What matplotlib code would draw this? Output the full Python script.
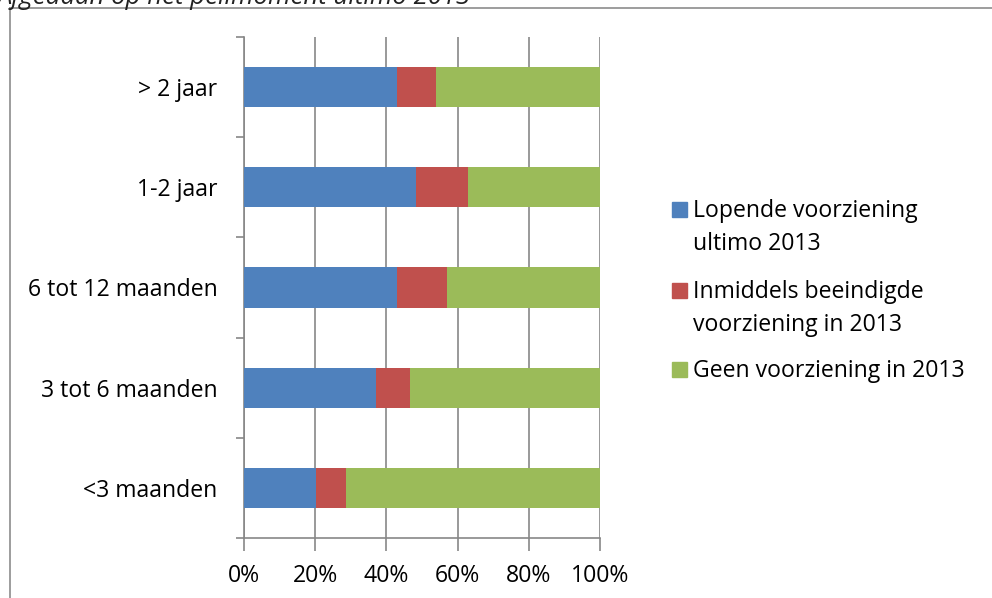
import numpy as np
from matplotlib import pyplot as plt
from matplotlib.patches import Rectangle
from matplotlib.lines import Line2D

# categories bottom -> top
categories = ['<3 maanden', '3 tot 6 maanden', '6 tot 12 maanden', '1-2 jaar', '> 2 jaar']
lopend = [20.3, 37.0, 43.1, 48.3, 43.0]
beeindigd = [8.4, 9.5, 13.9, 14.7, 11.0]
geen = [71.3, 53.5, 43.0, 37.0, 46.0]
series_names = ['Lopende voorziening\nultimo 2013',
                'Inmiddels beeindigde\nvoorziening in 2013',
                'Geen voorziening in 2013']
colors = ['#4F81BD', '#C0504D', '#9BBB59']
xticks = [0, 20, 40, 60, 80, 100]
title = 'Afgedaan op het peilmoment ultimo 2013'

W, H = 992, 598
plt.rcParams['font.family'] = ['Open Sans', 'DejaVu Sans']
FS = 16.6
fig = plt.figure(figsize=(W / 100, H / 100), dpi=100)

def fx(px):
    return px / W

def fy(py):
    return 1 - py / H

ax = fig.add_axes([fx(244), fy(538), fx(600) - fx(244), fy(37) - fy(538)])

y = np.arange(len(categories))
left = np.zeros(len(categories))
for vals, c in zip([lopend, beeindigd, geen], colors):
    ax.barh(y, vals, left=left, height=0.4, color=c, zorder=3)
    left += np.array(vals)

ax.set_xlim(0, 100)
ax.set_ylim(-0.5, len(categories) - 0.5)
gray = '#878787'
ax.set_xticks(xticks)
ax.set_xticklabels([f'{t}%' for t in xticks], fontsize=FS)
ax.set_yticks(y)
ax.set_yticklabels(categories, fontsize=FS)
ax.set_yticks(np.arange(-0.5, len(categories)), minor=True)
ax.tick_params(axis='y', which='major', length=0, pad=19)
ax.tick_params(axis='y', which='minor', length=6, width=1.2, color=gray, direction='out')
ax.tick_params(axis='x', length=9, width=1.2, color=gray, pad=10)
ax.xaxis.grid(True, color=gray, linewidth=1.2, zorder=0)
ax.set_axisbelow(True)
for s in ['top', 'right']:
    ax.spines[s].set_visible(False)
for s in ['left', 'bottom']:
    ax.spines[s].set_color(gray)
    ax.spines[s].set_linewidth(1.2)

# legend drawn by hand: baseline of first line of each entry
leg_base = [217, 298, 377]
line_step = 33
for name, c, lb in zip(series_names, colors, leg_base):
    fig.add_artist(Rectangle((fx(672), fy(lb)), fx(15), fy(0) - fy(15),
                             transform=fig.transFigure, color=c))
    for i, part in enumerate(name.split('\n')):
        fig.text(fx(693), fy(lb + i * line_step), part, fontsize=FS, va='baseline')

# outer chart border
border = '#8c8c8c'
fig.add_artist(Line2D([fx(10), 1], [fy(8), fy(8)], transform=fig.transFigure, color=border, lw=1.2))
fig.add_artist(Line2D([fx(10), fx(10)], [fy(8), 0], transform=fig.transFigure, color=border, lw=1.2))

# caption above the chart, cut off by the top edge as in the source
fig.text(fx(-3), fy(4), title, fontsize=18.5, style='italic', color='#222222', va='baseline')

fig.savefig('out.png', dpi=100)
